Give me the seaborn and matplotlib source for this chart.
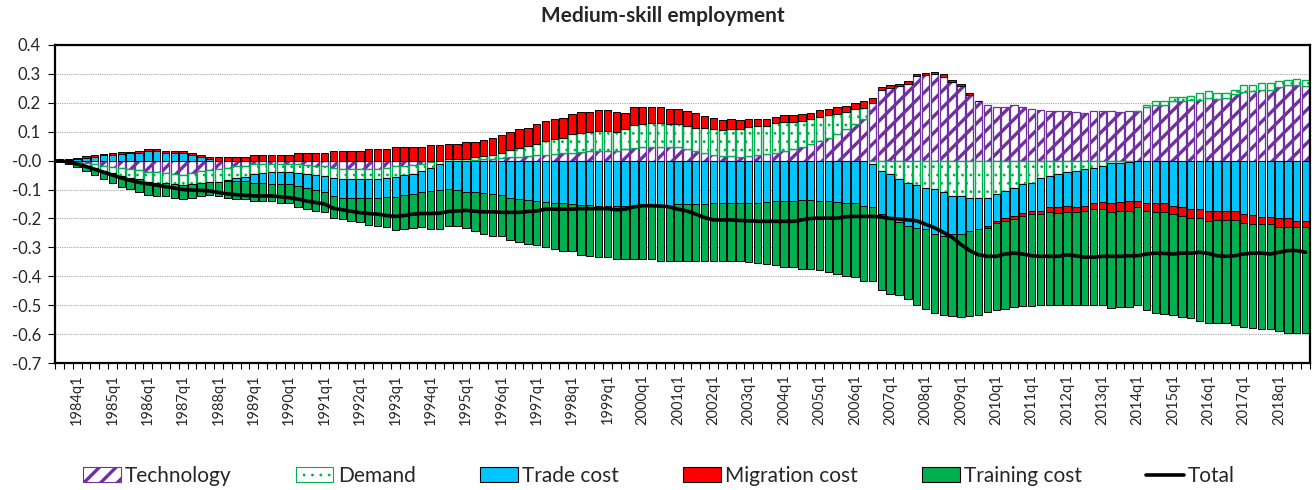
import matplotlib
matplotlib.use("Agg")
import numpy as np
import matplotlib.pyplot as plt
import seaborn as sns
from matplotlib.patches import Patch
from matplotlib.lines import Line2D

# ---------------- data (1983q3 .. 2018q4, 142 quarters) ----------------
quarters = [f"{y}q{q}" for y in range(1983, 2019) for q in range(1, 5)][2:]

technology = [
    0, -.002, -.004, -.008, -.012, -.018, -.022, -.027, -.03, -.033, -.038, -.04, -.043, -.046, -.048, -.042, -.036, -.032, -.03,
    -.025, -.02, -.018, -.012, -.01, -.01, -.01, -.01, -.012, -.015, -.018, -.02, -.025, -.028, -.03, -.03, -.03, -.028, -.025, -.02, -.018, -.015, -.01, -.005, -.002,
    0, 0, 0, .002, .005, .007, .009, .011, .014, .016, .018, .021, .023, .025, .028, .03, .032, .033, .033, .033, .039, .045, .048, .048,
    .048, .048, .048, .041, .033, .025, .018, .016, .016, .014, .016, .018, .022, .028, .033, .039, .048, .056, .068, .079, .091, .108, .125, .145,
    .2, .246, .252,
    .257, .266, .292, .295, .3, .29, .272, .257, .228,
    .206, .194, .186, .186, .191, .186, .179, .174, .171, .171, .171, .168, .166, .171, .171, .171, .168, .171, .171, .186, .194, .194, .208, .206,
    .209, .211, .217, .214, .217, .229, .237, .24, .246, .246, .255, .26, .263, .257]

demand = [
    -.002, -.004, -.006, -.01, -.014, -.018, -.022, -.026, -.029, -.032, -.036, -.038, -.034, -.036, -.038, -.04, -.042, -.043, -.045,
    -.042, -.04, -.038, -.035, -.032, -.03, -.03, -.03, -.03, -.03, -.03, -.032, -.035, -.035, -.035, -.035, -.035, -.035, -.035, -.035, -.032, -.03, -.025, -.02, -.01,
    .005, .005, .007, .009, .011, .014, .018, .025, .03, .034, .039, .048, .051, .053, .063, .066, .066, .069, .069, .066, .069, .078, .08, .082,
    .082, .08, .08, .078, .08, .087, .09, .09, .094, .097, .101, .101, .097, .101, .1, .094, .089, .089, .084, .078, .072, .06, .052, .038,
    -.01, -.036, -.047,
    -.064, -.076, -.085, -.093, -.099, -.11, -.122, -.122, -.128,
    -.128, -.128, -.116, -.105, -.093, -.082, -.076, -.059, -.053, -.047, -.041, -.036, -.03, -.024, -.018, -.009, -.007, -.005, 0, .008, .011, .011, .011, .014,
    .016, .023, .023, .021, .017, .017, .023, .023, .023, .023, .02, .02, .02, .023]

trade_cost = [
    .002, .003, .005, .01, .013, .018, .02, .024, .025, .026, .032, .032, .026, .026, .026, .02, .012, .005, 0,
    -.005, -.01, -.015, -.03, -.035, -.04, -.04, -.042, -.045, -.05, -.055, -.058, -.062, -.065, -.065, -.063, -.063, -.065, -.065, -.07, -.07, -.07, -.075, -.08, -.09,
    -.099, -.101, -.107, -.108, -.113, -.114, -.12, -.128, -.133, -.136, -.141, -.143, -.147, -.148, -.149, -.154, -.154, -.156, -.156, -.156, -.156, -.156, -.156, -.156,
    -.156, -.156, -.151, -.151, -.151, -.151, -.145, -.145, -.145, -.145, -.147, -.147, -.143, -.141, -.141, -.139, -.136, -.136, -.139, -.141, -.143, -.145, -.147, -.156,
    -.152, -.149, -.149,
    -.149, -.149, -.149, -.144, -.155, -.149, -.132, -.132, -.115,
    -.109, -.098, -.092, -.095, -.098, -.098, -.098, -.115, -.109, -.115, -.115, -.126, -.126, -.121, -.125, -.139, -.136, -.136, -.139, -.147, -.147, -.147, -.156, -.162,
    -.168, -.168, -.174, -.174, -.174, -.174, -.185, -.189, -.195, -.195, -.2, -.2, -.208, -.208]

migration_cost = [
    .004, .004, .005, .005, .006, .006, .006, .006, .006, .006, .007, .007, .007, .007, .007, .007, .008, .009, .013,
    .013, .013, .014, .018, .018, .018, .02, .02, .027, .027, .028, .028, .033, .033, .033, .033, .04, .04, .04, .048, .048, .048, .048, .053, .053,
    .052, .052, .057, .053, .057, .059, .06, .062, .064, .063, .068, .069, .069, .07, .069, .071, .069, .072, .072, .069, .057, .063, .057, .055,
    .055, .052, .052, .054, .052, .044, .04, .034, .034, .029, .028, .025, .025, .023, .026, .026, .023, .021, .022, .023, .023, .021, .021, .023,
    .018, .008, .008,
    .009, .009, .008, .008, .007, .008, .008, .008, .007,
    0, -.006, -.008, -.008, -.011, -.011, -.011, -.011, -.017, -.02, -.023, -.017, -.017, -.023, -.025, -.029, -.032, -.032, -.023, -.026, -.032, -.032, -.029, -.029,
    -.029, -.032, -.034, -.032, -.032, -.032, -.029, -.031, -.025, -.025, -.028, -.028, -.02, -.02]

training_cost = [
    -.004, -.006, -.012, -.017, -.023, -.028, -.032, -.037, -.04, -.042, -.045, -.046, -.046, -.046, -.047, -.047, -.045, -.044, -.048,
    -.056, -.061, -.063, -.063, -.063, -.06, -.065, -.066, -.073, -.072, -.07, -.068, -.076, -.075, -.078, -.085, -.095, -.097, -.105, -.116, -.118, -.118, -.121, -.131, -.133,
    -.126, -.124, -.126, -.134, -.141, -.146, -.14, -.145, -.147, -.152, -.15, -.157, -.159, -.163, -.162, -.172, -.175, -.179, -.179, -.184, -.184, -.184, -.184, -.184,
    -.19, -.19, -.195, -.195, -.195, -.195, -.201, -.201, -.201, -.201, -.205, -.207, -.215, -.219, -.228, -.23, -.239, -.239, -.241, -.245, -.249, -.253, -.255, -.259,
    -.253, -.264, -.264,
    -.253, -.253, -.267, -.275, -.272, -.274, -.284, -.287, -.295,
    -.297, -.293, -.302, -.305, -.305, -.313, -.318, -.316, -.322, -.318, -.322, -.322, -.328, -.333, -.333, -.333, -.333, -.333, -.338, -.345, -.347, -.351, -.349, -.349,
    -.349, -.356, -.353, -.355, -.355, -.362, -.36, -.359, -.361, -.364, -.36, -.368, -.368, -.368]

total = [
    0, -.005, -.012, -.02, -.03, -.04, -.05, -.06, -.068, -.075, -.08, -.085, -.09, -.095, -.1, -.102, -.103, -.105, -.11,
    -.115, -.118, -.12, -.122, -.122, -.122, -.125, -.128, -.133, -.14, -.145, -.15, -.165, -.17, -.175, -.18, -.183, -.185, -.19, -.193, -.19, -.185, -.183, -.183, -.182,
    -.176, -.174, -.172, -.175, -.177, -.177, -.179, -.179, -.179, -.176, -.174, -.168, -.168, -.168, -.168, -.166, -.166, -.166, -.166, -.17, -.168, -.16, -.156, -.156,
    -.157, -.16, -.168, -.174, -.185, -.197, -.205, -.205, -.205, -.207, -.208, -.21, -.21, -.21, -.21, -.21, -.205, -.2, -.199, -.199, -.199, -.194, -.193, -.193,
    -.193, -.195, -.2,
    -.202, -.205, -.208, -.22, -.232, -.248, -.265, -.29, -.311,
    -.326, -.331, -.331, -.323, -.32, -.323, -.329, -.331, -.331, -.331, -.326, -.329, -.334, -.334, -.331, -.331, -.331, -.329, -.329, -.323, -.32, -.321, -.323, -.32,
    -.32, -.317, -.321, -.329, -.331, -.329, -.323, -.32, -.32, -.323, -.317, -.311, -.311, -.317]

series_names = ["Technology", "Demand", "Trade cost", "Migration cost", "Training cost"]
for arr in (technology, demand, trade_cost, migration_cost, training_cost, total):
    assert len(arr) == len(quarters), (len(arr), len(quarters))

# ---------------- style ----------------
sns.set_theme(style="white")
plt.rcParams["font.family"] = ["Lato", "DejaVu Sans"]

styles = {
    "Technology": dict(color="white", edgecolor="#7030A0", hatch="//", lw=0.9, hlw=2.4),
    "Demand": dict(color="white", edgecolor="#00B050", hatch="..", lw=1.0, hlw=0.8),
    "Trade cost": dict(color="#00C5FF", edgecolor="black", hatch=None, lw=0.7, hlw=1.0),
    "Migration cost": dict(color="#FF0000", edgecolor="black", hatch=None, lw=0.7, hlw=1.0),
    "Training cost": dict(color="#00B050", edgecolor="black", hatch=None, lw=0.7, hlw=1.0),
}


def fix_hatch_lw(patch, hlw):
    """Give a patch its own hatch line width, whichever way matplotlib reads it."""
    if hasattr(patch, "set_hatch_linewidth"):
        patch.set_hatch_linewidth(hlw)
    orig = patch.draw

    def draw(renderer):
        with plt.rc_context({"hatch.linewidth": hlw}):
            orig(renderer)
    patch.draw = draw


W, H = 1313, 490
fig = plt.figure(figsize=(W / 100, H / 100), dpi=100)
ax = fig.add_axes([55 / W, 1 - 363 / H, (1310 - 55) / W, (363 - 45) / H])

x = np.arange(len(quarters))
pos_base = np.zeros(len(x))
neg_base = np.zeros(len(x))
data = [technology, demand, trade_cost, migration_cost, training_cost]
for name, vals in zip(series_names, data):
    v = np.array(vals, dtype=float)
    st = styles[name]
    bottom = np.where(v >= 0, pos_base, neg_base)
    with plt.rc_context({"hatch.linewidth": st["hlw"]}):
        bars = ax.bar(x, v, bottom=bottom, width=0.84, color=st["color"], edgecolor=st["edgecolor"],
                      hatch=st["hatch"], linewidth=st["lw"], zorder=2)
    for b in bars:
        fix_hatch_lw(b, st["hlw"])
    pos_base = pos_base + np.where(v > 0, v, 0)
    neg_base = neg_base + np.where(v < 0, v, 0)

sns.lineplot(x=x, y=np.array(total), color="black", linewidth=2.6, ax=ax, zorder=5, legend=False)

# axes
ax.set_xlim(-0.5, len(x) - 0.5)
ax.set_ylim(-0.7, 0.4)
yt = np.round(np.arange(-0.7, 0.41, 0.1), 1)
ax.set_yticks(yt)
ax.set_yticklabels([f"{t:.1f}" for t in yt], fontsize=12)
ax.yaxis.grid(True, linestyle=(0, (1, 1)), color="#A6A6A6", linewidth=0.8, zorder=0)
ax.xaxis.grid(False)
ax.set_axisbelow(True)

lab_pos = [i for i, q in enumerate(quarters) if q.endswith("q1") and not q.startswith("1983")]
ax.set_xticks(lab_pos)
ax.set_xticklabels([quarters[i] for i in lab_pos], rotation=90, fontsize=10.5)
ax.set_xticks(np.arange(-0.5, len(x), 1), minor=True)
ax.tick_params(axis="x", which="major", length=0, pad=8)
ax.tick_params(axis="x", which="minor", length=4, width=0.8, color="black", direction="out", bottom=True)
ax.tick_params(axis="y", which="major", length=5, width=0.8, color="black", direction="out", left=True, pad=5)
for side in ("left", "right", "top", "bottom"):
    ax.spines[side].set_visible(True)
    ax.spines[side].set_color("black")
    ax.spines[side].set_linewidth(1.6)
ax.set_xlabel("")
ax.set_ylabel("")

fig.text(0.505, 1 - 16 / H, "Medium-skill employment", ha="center", va="center",
         fontsize=15, fontweight="bold")

handles = []
for name in series_names:
    st = styles[name]
    with plt.rc_context({"hatch.linewidth": st["hlw"]}):
        handles.append(Patch(facecolor=st["color"], edgecolor=st["edgecolor"], hatch=st["hatch"], linewidth=0.8))
handles.append(Line2D([0], [0], color="black", linewidth=2.6))
leg = fig.legend(handles, series_names + ["Total"], loc="center", bbox_to_anchor=(0.502, 1 - 476 / H),
                 ncol=6, frameon=False, fontsize=15, handlelength=1.8, handleheight=0.7,
                 handletextpad=0.2, columnspacing=3.1)
for p, name in zip(leg.get_patches(), series_names):
    fix_hatch_lw(p, styles[name]["hlw"])

fig.savefig("out.png", dpi=100)
